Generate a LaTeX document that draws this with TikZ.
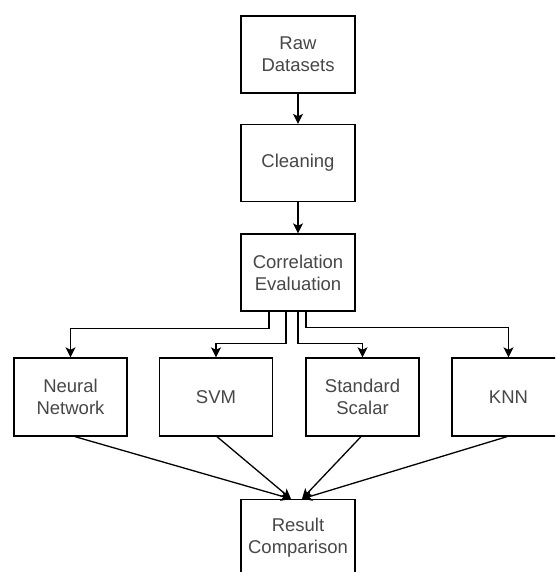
\documentclass[tikz,border=0pt]{standalone}
\usepackage{fontspec}
\setmainfont{Liberation Sans}
\usetikzlibrary{arrows.meta}
\begin{document}
\begin{tikzpicture}[x=1pt,y=-1pt,
  box/.style={draw=black, line width=1.3pt, fill=white, align=center,
    text=black!72, font=\fontsize{18.5}{22}\selectfont, inner sep=0pt},
  topbox/.style={box, minimum width=114pt, minimum height=77pt},
  botbox/.style={box, minimum width=113pt, minimum height=78pt},
  arr/.style={draw=black, line width=1.3pt, -{Stealth[length=10pt,width=10pt,inset=2.5pt]}}]
\useasboundingbox (0,0) rectangle (555,572);
\begin{scope}
\clip (0,0) rectangle (555,572);
\node[topbox] (raw) at (298,54.5) {Raw\\Datasets};
\node[topbox] (clean) at (298,163) {Cleaning};
\node[topbox] (corr) at (298,272.5) {Correlation\\Evaluation};
\node[botbox] (nn) at (70.5,397) {Neural\\Network};
\node[botbox] (svm) at (216,397) {SVM};
\node[botbox] (std) at (362.5,397) {Standard\\Scalar};
\node[botbox] (knn) at (508.5,397) {KNN};
\node[topbox] (res) at (298,538) {Result\\Comparison};

\draw[arr] (raw) -- (clean);
\draw[arr] (clean) -- (corr);

\draw[arr] ([xshift=-29pt]corr.south) -- ++(0pt,-17pt) -| (nn.north);
\draw[arr] ([xshift=-12pt]corr.south) -- ++(0pt,-32pt) -| (svm.north);
\draw[arr] (corr.south) -- ++(0pt,-32pt) -| (std.north);
\draw[arr] ([xshift=8pt]corr.south) -- ++(0pt,-16pt) -| (knn.north);

\draw[arr] ([xshift=4.5pt]nn.south) -- ([xshift=-7pt]res.north);
\draw[arr] ([xshift=1pt]svm.south) -- ([xshift=-7pt]res.north);
\draw[arr] ([xshift=-1.5pt]std.south) -- ([xshift=4pt]res.north);
\draw[arr] ([xshift=-1.5pt]knn.south) -- ([xshift=4pt]res.north);
\end{scope}
\end{tikzpicture}
\end{document}
